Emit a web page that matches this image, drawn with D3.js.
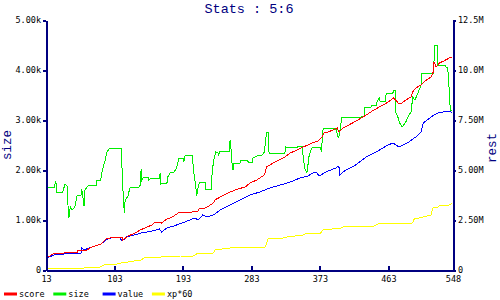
<!DOCTYPE html>
<html>
<head>
<meta charset="utf-8">
<script src="https://cdn.jsdelivr.net/npm/d3@7"></script>
<style>
  html, body { margin: 0; padding: 0; background: #fff; }
  svg { display: block; }
</style>
</head>
<body>
<div class="js-stats"></div>
<script>
// [x, size (k)]  -- left axis
const sizeSeries = [
  [13,1.50],[16,1.66],[24,1.66],[26,1.78],[27,1.56],[35,1.56],[38,1.72],[41,1.68],[42,1.26],[43,1.04],
  [45,1.26],[47,1.20],[51,1.26],[54,1.50],[59,1.50],[60,1.62],[63,1.28],[64,1.60],[67,1.66],[70,1.70],
  [79,1.70],[80,1.80],[85,1.80],[87,2.00],[91,2.20],[93,2.36],[97,2.44],[112,2.44],[113,2.00],[114,1.64],
  [116,1.14],[117,1.40],[121,1.48],[123,1.64],[135,1.66],[137,1.70],[138,2.02],[139,1.80],[141,1.86],[147,1.86],
  [148,1.80],[151,1.84],[162,1.84],[163,1.94],[164,1.72],[167,1.74],[172,1.74],[173,1.86],[177,1.96],[181,1.96],
  [184,2.02],[187,2.18],[188,2.24],[193,2.24],[194,2.16],[196,2.30],[205,2.30],[208,1.86],[210,1.66],[211,1.48],
  [213,1.66],[215,1.76],[222,1.76],[223,1.62],[230,1.62],[231,1.86],[233,2.16],[236,2.36],[239,2.34],[240,2.30],
  [242,2.38],[254,2.38],[255,2.60],[256,2.46],[258,2.04],[259,2.00],[260,2.14],[268,2.14],[269,2.20],[277,2.20],
  [279,2.16],[284,2.16],[285,2.24],[293,2.30],[297,2.30],[300,2.36],[303,2.76],[305,2.76],[306,2.36],[307,2.34],
  [327,2.34],[328,2.46],[343,2.44],[344,2.48],[350,2.48],[351,2.26],[353,2.04],[356,1.94],[359,2.30],[363,2.46],
  [374,2.46],[375,2.36],[377,2.80],[378,2.84],[386,2.84],[394,2.82],[397,2.66],[398,2.66],[402,3.06],[427,3.06],
  [428,3.08],[431,3.08],[432,3.26],[440,3.26],[442,3.30],[447,3.30],[448,3.36],[451,3.44],[452,3.38],[459,3.38],
  [460,3.50],[461,3.54],[469,3.54],[470,3.60],[472,3.60],[473,3.14],[476,3.04],[478,2.94],[481,2.86],[484,2.92],
  [486,2.96],[490,3.10],[493,3.16],[495,3.46],[498,3.40],[502,3.54],[506,3.70],[507,3.94],[522,3.94],[523,4.16],
  [524,4.50],[527,4.50],[528,4.10],[537,4.10],[539,4.06],[541,4.06],[543,3.60],[544,3.30],[545,3.20],[547,3.20]
];

// [x, M]  -- right axis
const scoreSeries = [
  [13,0.65],[18,0.70],[24,0.85],[37,0.85],[41,0.90],[54,0.90],[55,1.00],[67,1.00],[73,1.15],[85,1.30],
  [92,1.55],[97,1.60],[108,1.65],[113,1.65],[114,1.50],[121,1.70],[130,1.85],[137,2.00],[146,2.15],[152,2.25],
  [156,2.40],[163,2.40],[165,2.35],[172,2.55],[179,2.65],[187,2.85],[194,2.90],[205,2.90],[206,2.95],[213,2.95],
  [215,3.10],[222,3.10],[225,3.15],[233,3.35],[235,3.50],[242,3.65],[252,3.85],[265,4.05],[275,4.15],[281,4.35],
  [290,4.50],[300,4.75],[303,5.15],[314,5.40],[327,5.65],[334,5.85],[343,6.00],[351,6.15],[363,6.35],[371,6.45],
  [376,6.65],[378,6.85],[384,6.90],[390,7.00],[396,7.10],[398,6.90],[403,7.10],[411,7.25],[423,7.50],[434,7.75],
  [444,8.00],[456,8.25],[463,8.40],[470,8.60],[476,8.35],[481,8.35],[486,8.50],[493,8.65],[495,8.90],[499,9.10],
  [506,9.25],[513,9.50],[519,9.65],[522,9.90],[523,10.40],[526,10.15],[530,10.35],[536,10.45],[543,10.60],[547,10.65]
];

const valueSeries = [
  [13,0.60],[24,0.75],[37,0.80],[54,0.85],[59,0.85],[60,1.10],[63,1.00],[73,1.15],[85,1.30],[92,1.50],
  [98,1.60],[109,1.65],[113,1.45],[119,1.65],[129,1.75],[138,1.85],[146,1.90],[158,2.00],[162,2.05],[165,1.90],
  [172,2.10],[181,2.20],[192,2.35],[202,2.50],[209,2.60],[213,2.50],[219,2.75],[225,2.65],[233,2.75],[242,3.00],
  [255,3.25],[268,3.50],[281,3.75],[294,3.90],[307,4.10],[321,4.25],[334,4.40],[347,4.60],[357,4.70],[364,4.85],
  [368,4.90],[372,4.70],[381,4.90],[394,5.10],[398,5.20],[399,4.75],[407,5.00],[420,5.25],[434,5.65],[447,5.90],
  [460,6.20],[469,6.35],[477,6.15],[490,6.40],[499,6.65],[506,6.90],[509,7.35],[516,7.55],[523,7.75],[528,7.85],
  [535,7.90],[543,7.95],[547,7.85]
];

const xpSeries = [
  [13,0.10],[63,0.10],[64,0.15],[84,0.15],[89,0.25],[106,0.30],[112,0.35],[138,0.50],[142,0.60],[164,0.65],
  [190,0.70],[206,0.70],[211,0.80],[233,0.85],[235,1.00],[255,1.10],[277,1.15],[301,1.15],[305,1.55],[325,1.60],
  [330,1.65],[351,1.75],[356,1.85],[374,1.85],[377,2.00],[401,2.10],[403,2.15],[444,2.20],[449,2.30],[495,2.35],
  [497,2.55],[509,2.65],[519,2.75],[522,3.15],[528,3.15],[530,3.20],[543,3.25],[547,3.35]
];

const xTicks = [13, 103, 193, 283, 373, 463, 548];
const leftTicks = [0, 1, 2, 3, 4, 5];
const rightTicks = [0, 2.5, 5, 7.5, 10, 12.5];

const legendNames = ['score', 'size', 'value', 'xp*60'];
const legendColors = ['#ff0000', '#00ee00', '#0000ff', '#ffff00'];

const width = 500, height = 300;
const axisColor = '#000080';
const mono = '"DejaVu Sans Mono", monospace';
const thinMono = '"Liberation Mono", monospace';

const svg = d3.select('.js-stats').append('svg')
  .attr('width', width).attr('height', height);

const x = d3.scaleLinear().domain([13, 548]).range([46, 453]);
const yLeft = d3.scaleLinear().domain([0, 5]).range([270, 20]);
const yRight = d3.scaleLinear().domain([0, 12.5]).range([270, 20]);

// title
svg.append('text')
  .attr('x', 249).attr('y', 13)
  .attr('text-anchor', 'middle')
  .attr('fill', axisColor)
  .style('font', '13.5px ' + thinMono)
  .text('Stats : 5:6');

// lines
function drawLine(data, scale, color) {
  const line = d3.line()
    .x(function (d) { return x(d[0]); })
    .y(function (d) { return scale(d[1]); });
  svg.append('path')
    .datum(data)
    .attr('d', line)
    .attr('fill', 'none')
    .attr('stroke', color)
    .attr('stroke-width', 1)
    .attr('shape-rendering', 'crispEdges');
}

drawLine(xpSeries, yRight, legendColors[3]);
drawLine(sizeSeries, yLeft, legendColors[1]);
drawLine(valueSeries, yRight, legendColors[2]);
drawLine(scoreSeries, yRight, legendColors[0]);

// axes
function styleAxis(g) {
  g.selectAll('path, line')
    .attr('stroke', axisColor)
    .attr('stroke-width', 2)
    .attr('shape-rendering', 'crispEdges');
  g.selectAll('text')
    .attr('fill', '#000')
    .style('font', '8.5px ' + mono);
}

svg.append('g')
  .attr('transform', 'translate(46,0)')
  .call(d3.axisLeft(yLeft)
    .tickValues(leftTicks)
    .tickFormat(function (d) { return d === 0 ? '0' : d.toFixed(2) + 'k'; })
    .tickSizeInner(3).tickSizeOuter(0).tickPadding(2))
  .call(styleAxis);

svg.append('g')
  .attr('transform', 'translate(453,0)')
  .call(d3.axisRight(yRight)
    .tickValues(rightTicks)
    .tickFormat(function (d) {
      if (d === 0) return '0';
      return (d >= 10 ? d.toFixed(1) : d.toFixed(2)) + 'M';
    })
    .tickSizeInner(3).tickSizeOuter(0).tickPadding(2))
  .call(styleAxis);

svg.append('g')
  .attr('transform', 'translate(0,270)')
  .call(d3.axisBottom(x)
    .tickValues(xTicks)
    .tickFormat(d3.format('d'))
    .tickSizeInner(-4).tickSizeOuter(0).tickPadding(6))
  .call(styleAxis);

// axis titles
svg.append('text')
  .attr('transform', 'translate(11,145) rotate(-90)')
  .attr('text-anchor', 'middle')
  .attr('fill', axisColor)
  .style('font', '12.5px ' + thinMono)
  .text('size');

svg.append('text')
  .attr('transform', 'translate(496,148) rotate(-90)')
  .attr('text-anchor', 'middle')
  .attr('fill', axisColor)
  .style('font', '12.5px ' + thinMono)
  .text('rest');

// legend
const legend = svg.append('g').attr('transform', 'translate(4,294)');
const item = legend.selectAll('g').data(legendNames).enter().append('g')
  .attr('transform', function (d, i) { return 'translate(' + (i * 49.3) + ',0)'; });

item.append('line')
  .attr('x1', 0).attr('x2', 13)
  .attr('stroke', function (d, i) { return legendColors[i]; })
  .attr('stroke-width', 3);

item.append('text')
  .attr('x', 15).attr('y', 3)
  .attr('fill', '#000')
  .style('font', '8.5px ' + mono)
  .text(function (d) { return d; });
</script>
</body>
</html>
